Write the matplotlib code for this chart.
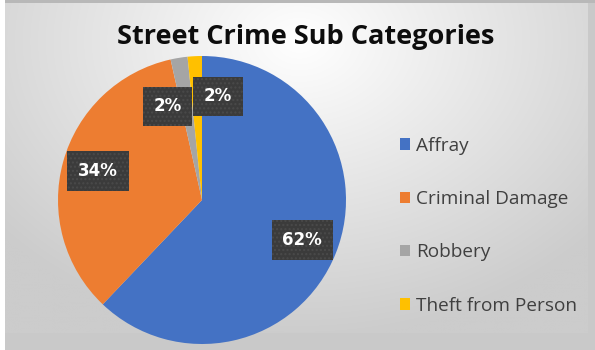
import numpy as np
import matplotlib
matplotlib.use("Agg")
import matplotlib.pyplot as plt
from matplotlib.patches import Rectangle, Patch

# Street crime breakdown (share of incidents, %)
categories = ["Affray", "Criminal Damage", "Robbery", "Theft from Person"]
shares = [62.1, 34.4, 1.9, 1.6]
colors = ["#4472C4", "#ED7D31", "#A5A5A5", "#FFC000"]
title = "Street Crime Sub Categories"

W, H, DPI = 595, 350, 100
fig = plt.figure(figsize=(W / DPI, H / DPI), dpi=DPI)
fig.patch.set_facecolor("#c9c9c9")

# Radial-gradient chart background
bg = fig.add_axes([0, 0, 1, 1], zorder=-10)
bg.set_axis_off()
bg.set_xlim(0, W)
bg.set_ylim(H, 0)
yy, xx = np.mgrid[0:H, 0:W]
d = np.hypot((xx - 300) / 420.0, (yy - 40) / 330.0)
g = np.clip(1.0 - 0.21 * d, 0.80, 1.0)
img = np.dstack([g, g, g])
bg.imshow(img, extent=(5, 588, 333, 3), aspect="auto", interpolation="bilinear")
bg.add_patch(Rectangle((0, 0), 4.5, H, color="white", lw=0))
bg.add_patch(Rectangle((4.5, 0), W, 3, color="#b8b8b8", lw=0))

# Pie
cx, cy, r = 202, 200, 144
ax = fig.add_axes([(cx - r) / W, (H - cy - r) / H, 2 * r / W, 2 * r / H])
ax.set_axis_off()
wedges, texts, autotexts = ax.pie(
    shares, colors=colors, startangle=90, counterclock=False,
    autopct=lambda p: f"{p:.0f}%", pctdistance=0.75,
    wedgeprops=dict(linewidth=0),
    textprops=dict(color="white", fontsize=12, fontweight="bold",
                   family=["DejaVu Sans"]),
)
ax.set_xlim(-1, 1)
ax.set_ylim(-1, 1)

# Nudge the two small-slice labels apart
label_offsets = [(0, 0), (0, 0), (-0.12, -0.09), (0.15, -0.03)]
for t, (dx, dy) in zip(autotexts, label_offsets):
    x, y = t.get_position()
    t.set_position((x + dx, y + dy))
    t.set_bbox(dict(boxstyle="square,pad=0.65", facecolor="#3b3b3b",
                    edgecolor="#4a4a4a", hatch="....", linewidth=0))
    t.set_zorder(5)

fig.text(0.513, 0.895, title, ha="center", va="center", fontsize=19.5,
         fontweight="bold", color="#0d0d0d", family=["Open Sans", "DejaVu Sans"])

handles = [Patch(facecolor=c, edgecolor="none") for c in colors]
fig.legend(handles, categories, loc="center left", bbox_to_anchor=(0.643, 0.355),
           frameon=False, labelspacing=1.85, handlelength=0.55,
           handleheight=0.55, handletextpad=0.3, labelcolor="#404040",
           prop=dict(family=["Open Sans", "DejaVu Sans"], size=13.7))

fig.savefig("out.png", dpi=DPI)
